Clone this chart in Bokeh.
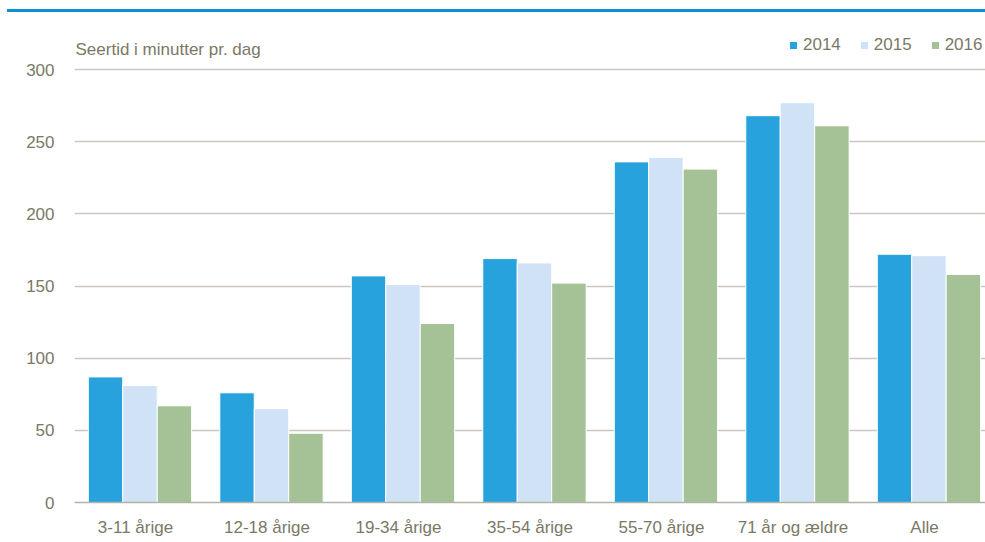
from bokeh.plotting import figure
from bokeh.models import (FactorRange, Range1d, FixedTicker, Label, Div,
                          ColumnDataSource)
from bokeh.transform import dodge
from bokeh.layouts import column
from bokeh.embed import file_html
from bokeh.resources import INLINE

# ---- data ----
categories = ["3-11 årige", "12-18 årige", "19-34 årige", "35-54 årige",
              "55-70 årige", "71 år og ældre", "Alle"]
years = ["2014", "2015", "2016"]
v2014 = [87, 76, 157, 169, 236, 268, 172]
v2015 = [81, 65, 151, 166, 239, 277, 171]
v2016 = [67, 48, 124, 152, 231, 261, 158]
y_ticks = [0, 50, 100, 150, 200, 250, 300]
y_title = "Seertid i minutter pr. dag"

# ---- style ----
FONT = "Liberation Sans"
FS = "17px"
TXT = "#7a7866"
colors = ["#27a2dc", "#cfe2f6", "#a5c196"]

src = ColumnDataSource(dict(cat=categories, y2014=v2014, y2015=v2015, y2016=v2016))

xr = FactorRange(*categories, range_padding=-0.036, range_padding_units="absolute")
p = figure(x_range=xr, y_range=Range1d(0, 339.5),
           width=985, height=530, output_backend="svg", toolbar_location=None,
           min_border_left=74, min_border_right=0, min_border_top=0,
           min_border_bottom=40)
p.outline_line_color = None
p.background_fill_color = "white"
p.border_fill_color = "white"

bw = 0.262
shift = 0.034
offsets = [-bw + shift, shift, bw + shift]
for yr, off, col in zip(years, offsets, colors):
    p.vbar(x=dodge("cat", off, range=p.x_range), top="y" + yr, width=bw,
           source=src, fill_color=col, line_color="white", line_width=1,
           legend_label=yr)

# axes
p.yaxis.ticker = FixedTicker(ticks=y_ticks)
p.yaxis.axis_line_color = None
p.yaxis.major_tick_line_color = None
p.yaxis.major_tick_out = 0
p.yaxis.major_tick_in = 0
p.yaxis.minor_tick_line_color = None
p.yaxis.major_label_standoff = 20
p.yaxis.major_label_text_font = FONT
p.yaxis.major_label_text_font_size = FS
p.yaxis.major_label_text_color = TXT

p.xaxis.axis_line_color = "#b5b3a8"
p.xaxis.axis_line_width = 1.5
p.xaxis.major_tick_line_color = None
p.xaxis.major_tick_out = 0
p.xaxis.major_tick_in = 0
p.xaxis.minor_tick_line_color = None
p.xaxis.major_label_standoff = 15
p.xaxis.major_label_text_font = FONT
p.xaxis.major_label_text_font_size = FS
p.xaxis.major_label_text_color = TXT

p.xgrid.grid_line_color = None
p.ygrid.grid_line_color = "#c9c7be"
p.ygrid.grid_line_width = 1.3

# title label
p.add_layout(Label(x=1, y=453, x_units="screen", y_units="screen", text=y_title,
                   text_font=FONT, text_font_size=FS, text_color=TXT,
                   text_baseline="alphabetic"))

# legend
lg = p.legend[0]
lg.orientation = "horizontal"
lg.location = (714, 447)
lg.glyph_width = 10
lg.glyph_height = 10
lg.label_standoff = 5
lg.spacing = 18
lg.padding = 0
lg.margin = 0
lg.border_line_color = None
lg.background_fill_alpha = 0
lg.label_text_font = FONT
lg.label_text_font_size = FS
lg.label_text_color = TXT

top_line = Div(width=978, height=3, margin=(9, 0, 0, 7),
               styles={"background-color": "#0a91d8"})
layout = column(top_line, p, spacing=0)

open("out.html", "w").write(file_html(layout, INLINE))
